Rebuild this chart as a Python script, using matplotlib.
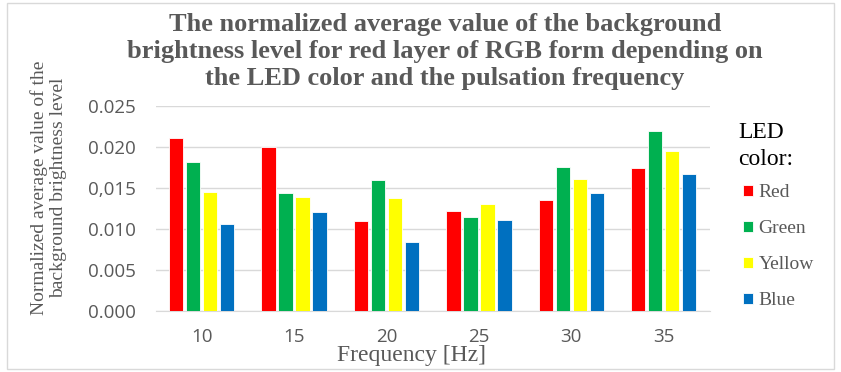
import matplotlib
matplotlib.use("Agg")
import matplotlib.pyplot as plt
import numpy as np
from matplotlib.patches import Rectangle

frequencies = ["10", "15", "20", "25", "30", "35"]
series_names = ["Red", "Green", "Yellow", "Blue"]
red = [0.0211, 0.0200, 0.0109, 0.0122, 0.0135, 0.0174]
green = [0.0182, 0.0144, 0.0159, 0.0115, 0.0175, 0.0219]
yellow = [0.0145, 0.0139, 0.0137, 0.0130, 0.0161, 0.0195]
blue = [0.0106, 0.0120, 0.0084, 0.0111, 0.0144, 0.0167]
colors = ["#FF0000", "#00B050", "#FFFF00", "#0070C0"]
yticks = [0.000, 0.005, 0.010, 0.015, 0.020, 0.025]
ytick_labels = ["0.000", "0.005", "0.010", "0,015", "0.020", "0.025"]

serif = "Liberation Serif"
gray = "#595959"

fig = plt.figure(figsize=(8.41, 3.72), dpi=100)
ax = fig.add_axes([0.185, 0.164, 0.659, 0.552])

x = np.arange(len(frequencies))
step = 0.184
width = 0.155
for i, (vals, c, name) in enumerate(zip([red, green, yellow, blue], colors, series_names)):
    ax.bar(x + (i - 1.5) * step, vals, width=width, color=c, edgecolor="white",
           linewidth=0.6, label=name, zorder=3)

ax.set_xlim(-0.5, len(frequencies) - 0.5)
ax.set_ylim(0, 0.025)
ax.set_yticks(yticks)
ax.set_yticklabels(ytick_labels)
ax.set_xticks(x)
ax.set_xticklabels(frequencies)
ax.tick_params(axis="both", length=0, colors=gray, labelsize=13.5)
ax.tick_params(axis="y", pad=14)
ax.tick_params(axis="x", pad=12)
for lab in ax.get_xticklabels() + ax.get_yticklabels():
    lab.set_family("Open Sans")
ax.yaxis.grid(True, color="#D9D9D9", linewidth=1, zorder=0)
for s in ["top", "right", "left"]:
    ax.spines[s].set_visible(False)
ax.spines["bottom"].set_color("#D9D9D9")

ax.set_xlabel("Frequency [Hz]", family=serif, color=gray, fontsize=17)
ax.xaxis.set_label_coords(0.462, -0.215)
ax.xaxis.label.set_va("center")
ax.set_ylabel("Normalized average value of the\nbackground brightness level",
              family=serif, color=gray, fontsize=14, linespacing=1.15)
ax.yaxis.set_label_coords(-0.193, 0.60)
ax.yaxis.label.set_va("center")

fig.text(0.529, 0.964, "The normalized average value of the background\n"
         "brightness level for red layer of RGB form depending on\n"
         "the LED color and the pulsation frequency",
         ha="center", va="top", family=serif, weight="bold", color=gray,
         fontsize=19, linespacing=1.22)

fig.text(0.8775, 0.672, "LED\ncolor:", ha="left", va="top", family=serif,
         fontsize=17, color="black", linespacing=1.36)

leg = fig.legend(loc="upper left", bbox_to_anchor=(0.8835, 0.505), frameon=False,
                 prop={"family": serif, "size": 14},
                 handlelength=0.5, handleheight=0.5, handletextpad=0.3,
                 labelspacing=0.98, borderpad=0, borderaxespad=0)
for t in leg.get_texts():
    t.set_color(gray)

fig.patches.append(Rectangle((0.008, 0.008), 0.984, 0.984, transform=fig.transFigure,
                             fill=False, edgecolor="#D9D9D9", linewidth=1))

fig.savefig("out.png", dpi=100)
